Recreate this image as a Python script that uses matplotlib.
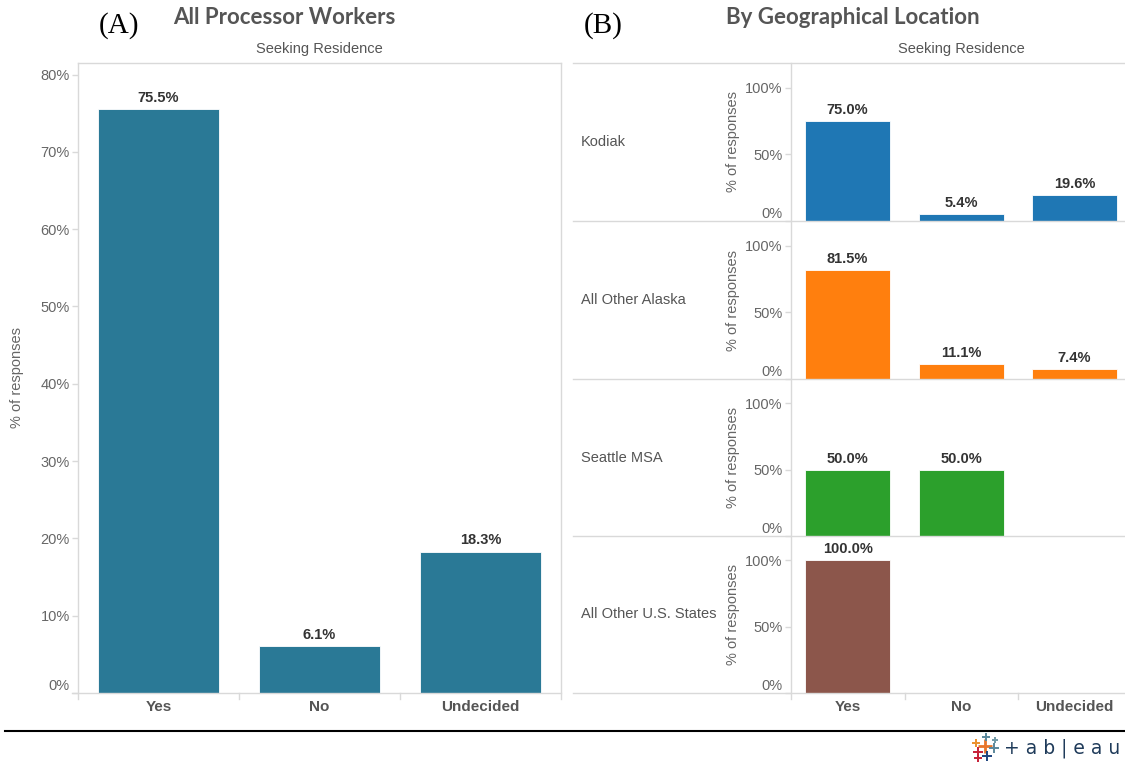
import matplotlib
matplotlib.use("Agg")
import matplotlib.pyplot as plt
from matplotlib.lines import Line2D
import numpy as np

# ---------------- data ----------------
categories = ["Yes", "No", "Undecided"]
all_workers = [75.5, 6.1, 18.3]

locations = ["Kodiak", "All Other Alaska", "Seattle MSA", "All Other U.S. States"]
kodiak = [75.0, 5.4, 19.6]
other_alaska = [81.5, 11.1, 7.4]
seattle = [50.0, 50.0, None]
other_us = [100.0, None, None]
loc_values = [kodiak, other_alaska, seattle, other_us]

colorA = "#2a7996"
loc_colors = ["#1f77b4", "#ff7f0e", "#2ca02c", "#8c564b"]

yticksA = [0, 10, 20, 30, 40, 50, 60, 70, 80]
yticksB = [0, 50, 100]

# ---------------- layout helpers ----------------
W, H = 1125, 763
fig = plt.figure(figsize=(W / 100, H / 100), dpi=100)
fig.patch.set_facecolor("white")

def fx(px):
    return px / W

def fy(py):
    return 1 - py / H

def rect(l, t, r, b):
    return [fx(l), fy(b), fx(r) - fx(l), fy(t) - fy(b)]

def hline(y, x0, x1, color="#d9d9d9", lw=1.0):
    fig.add_artist(Line2D([fx(x0), fx(x1)], [fy(y), fy(y)], color=color, lw=lw,
                          transform=fig.transFigure))

def vline(x, y0, y1, color="#d9d9d9", lw=1.0):
    fig.add_artist(Line2D([fx(x), fx(x)], [fy(y0), fy(y1)], color=color, lw=lw,
                          transform=fig.transFigure))

LBL = "Liberation Sans"
GRID = "#d9d9d9"
TXT = "#666666"
FS = 10.5
x = np.arange(len(categories))

def style_axis(ax, yticks, ymax):
    ax.set_xlim(-0.5, 2.5)
    ax.set_ylim(0, ymax)
    for s in ax.spines.values():
        s.set_visible(False)
    ax.set_xticks([])
    ax.set_yticks(yticks)
    ax.set_yticklabels([f"{t}%" for t in yticks], fontsize=FS, color=TXT, fontname=LBL)
    ax.tick_params(axis="y", length=4, color=GRID, width=1, pad=2)
    labs = ax.get_yticklabels()
    labs[0].set_va("bottom")
    ax.set_facecolor("none")

# ---------------- panel A ----------------
axA = fig.add_axes(rect(78, 63, 561, 693))
style_axis(axA, yticksA, 81.5)
axA.bar(x, all_workers, width=0.75, color=colorA, edgecolor="white", linewidth=0.6)
for xi, v in zip(x, all_workers):
    axA.annotate(f"{v:.1f}%", (xi, v), xytext=(0, 3), textcoords="offset points",
                 ha="center", va="bottom", fontsize=FS, fontweight="bold",
                 color="#333333", fontname=LBL)
axA.set_ylabel("% of responses", fontsize=FS, color=TXT, fontname=LBL, labelpad=12)

# panel A frame
hline(63, 78, 561)
vline(78, 63, 699)
vline(561, 63, 699)
hline(693, 72, 561)
for xs in [239, 400]:
    vline(xs, 693, 699)
for c, cx in zip(categories, [158.5, 319.5, 480.5]):
    fig.text(fx(cx), fy(707), c, ha="center", va="center", fontsize=11,
             fontweight="bold", color="#555555", fontname=LBL)

fig.text(fx(319), fy(49), "Seeking Residence", ha="center", va="center",
         fontsize=FS, color="#555555", fontname=LBL)
fig.text(fx(284), fy(17), "All Processor Workers", ha="center", va="center",
         fontsize=16, fontweight="bold", color="#555555", family="Lato")
fig.text(fx(119), fy(26), "(A)", ha="center", va="center", fontsize=21,
         color="black", family="Liberation Serif")

# ---------------- panel B ----------------
rows = [63, 221, 379, 536, 693]
for i, (loc, vals, col) in enumerate(zip(locations, loc_values, loc_colors)):
    top, bot = rows[i], rows[i + 1]
    ax = fig.add_axes(rect(791, top, 1131, bot))
    style_axis(ax, yticksB, 118.4)
    xs = [xi for xi, v in zip(x, vals) if v is not None]
    vs = [v for v in vals if v is not None]
    ax.bar(xs, vs, width=0.75, color=col, edgecolor="white", linewidth=0.6)
    for xi, v in zip(xs, vs):
        ax.annotate(f"{v:.1f}%", (xi, v), xytext=(0, 3), textcoords="offset points",
                    ha="center", va="bottom", fontsize=FS, fontweight="bold",
                    color="#333333", fontname=LBL)
    fig.text(fx(733), fy((top + bot) / 2), "% of responses", rotation=90,
             ha="center", va="center", fontsize=FS, color=TXT, fontname=LBL)
    fig.text(fx(581), fy((top + bot) / 2), loc, ha="left", va="center",
             fontsize=FS, color="#555555", fontname=LBL)

for r in rows:
    hline(r, 573, 1125)
vline(791, 63, 699)
for xs in [905, 1018]:
    vline(xs, 693, 699)
for c, cx in zip(categories, [847.5, 961, 1074.5]):
    fig.text(fx(cx), fy(707), c, ha="center", va="center", fontsize=11,
             fontweight="bold", color="#555555", fontname=LBL)

fig.text(fx(961), fy(49), "Seeking Residence", ha="center", va="center",
         fontsize=FS, color="#555555", fontname=LBL)
fig.text(fx(853), fy(17), "By Geographical Location", ha="center", va="center",
         fontsize=16, fontweight="bold", color="#555555", family="Lato")
fig.text(fx(603), fy(26), "(B)", ha="center", va="center", fontsize=21,
         color="black", family="Liberation Serif")

# ---------------- footer ----------------
hline(731, 5, 1125, color="black", lw=1.5)
plus_cols = ["#e8762b", "#5b879b", "#c72037", "#1f447e", "#eb912b", "#59879b", "#7099a6", "#c72037"]
plus_pos = [(985, 746, 10), (994, 748, 7), (978, 752, 7), (987, 756, 7),
            (976, 743, 6), (986, 737, 6), (995, 740, 5), (978, 758, 6)]
for (px, py, s), c in zip(plus_pos, plus_cols):
    fig.add_artist(Line2D([fx(px)], [fy(py)], marker="+", markersize=s,
                          markeredgewidth=2 if s >= 9 else 1.4, color=c,
                          transform=fig.transFigure))
fig.text(fx(1004), fy(748), "+ a b | e a u", ha="left", va="center", fontsize=13.5,
         color="#1f3b5a", family="DejaVu Sans")

fig.savefig("out.png", dpi=100, facecolor="white")
